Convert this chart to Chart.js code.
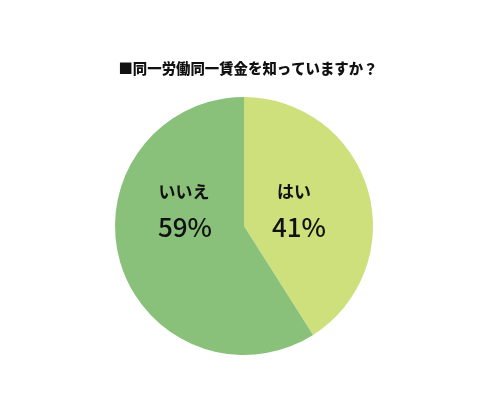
<!DOCTYPE html>
<html><head><meta charset="utf-8">
<script src="https://cdn.jsdelivr.net/npm/chart.js@4"></script>
<style>html,body{margin:0;padding:0;background:#fff}#w{width:490px;height:405px}</style>
</head><body><div id="w"><canvas id="c"></canvas></div>
<script>
const title = '■同一労働同一賃金を知っていますか？';
const categories = ['はい', 'いいえ'];
const values = [41, 59];
const colors = ['#cee07b', '#89c17b'];
// label placement relative to pie centre (px): [name dx, percent dx]
const labelOffsets = [[50, 55], [-60, -59]];

const overlay = {
  id: 'overlay',
  afterDraw(chart) {
    const ctx = chart.ctx;
    const arc = chart.getDatasetMeta(0).data[0];
    const cx = arc.x, cy = arc.y;
    ctx.save();
    ctx.fillStyle = '#111';
    ctx.textAlign = 'center';
    ctx.textBaseline = 'middle';
    ctx.font = '900 14.4px "Noto Sans CJK JP"';
    ctx.fillText(title, 248, 69);
    const total = values.reduce((a, b) => a + b, 0);
    categories.forEach((c, i) => {
      const [dxl, dxp] = labelOffsets[i];
      ctx.font = 'bold 17px "Noto Sans CJK JP"';
      ctx.fillText(c, cx + dxl, cy - 34);
      ctx.font = '500 26px "Noto Sans CJK JP"';
      ctx.fillText(Math.round(values[i] / total * 100) + '%', cx + dxp, cy + 1);
    });
    ctx.restore();
  }
};

new Chart(document.getElementById('c'), {
  type: 'pie',
  data: { labels: categories, datasets: [{ data: values, backgroundColor: colors, borderWidth: 0 }] },
  options: {
    responsive: true, maintainAspectRatio: false, animation: false,
    layout: { padding: { top: 97, bottom: 50, left: 0, right: 2 } },
    plugins: { legend: { display: false }, tooltip: { enabled: false }, title: { display: false } }
  },
  plugins: [overlay]
});
</script></body></html>
